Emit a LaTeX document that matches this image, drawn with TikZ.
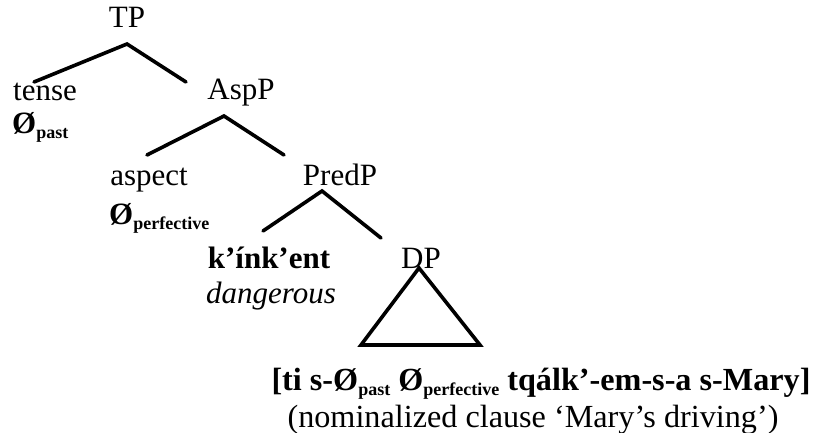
\documentclass[tikz,border=0pt]{standalone}
\usepackage{fontspec}
\setmainfont{Liberation Serif}
\begin{document}
\begin{tikzpicture}[x=1pt,y=-1pt,
  lbl/.style={inner sep=0pt,anchor=base,font=\fontsize{31}{36}\selectfont},
  biglbl/.style={lbl,font=\fontsize{32.2}{36}\selectfont},
  branch/.style={line width=3.6pt,line cap=round}]
\useasboundingbox (0,0) rectangle (827,433);
\newcommand{\subtxt}[1]{\raisebox{-5pt}{\fontsize{18}{18}\selectfont\bfseries #1}}
\node[lbl] (TP) at (127,28) {TP};
\node[lbl] (tense) at (45,101) {tense};
\node[lbl,anchor=base west] (past) at (12,134) {\bfseries Ø\subtxt{past}};
\node[lbl] (AspP) at (241,100) {AspP};
\node[lbl] (aspect) at (149,185) {aspect};
\node[lbl] (PredP) at (340,185) {PredP};
\node[lbl,anchor=base west] (perf) at (109,224) {\bfseries Ø\subtxt{perfective}};
\node[lbl] (kink) at (269,268) {\bfseries k’ínk’ent};
\node[lbl] (dang) at (271,303) {\itshape dangerous};
\node[lbl] (DP) at (421,268) {DP};
\node[biglbl] (clause) at (541,390) {\bfseries [ti s-Ø\subtxt{past} Ø\subtxt{perfective} tqálk’-em-s-a s-Mary]};
\node[biglbl] (gloss) at (533,427) {(nominalized clause ‘Mary’s driving’)};
\coordinate (tpA) at (127,44);
\coordinate (tpL) at (34,82);
\coordinate (tpR) at (186,82);
\coordinate (aspA) at (224,116);
\coordinate (aspL) at (147,155);
\coordinate (aspR) at (284,155);
\coordinate (prA) at (322,191);
\coordinate (prL) at (263,231);
\coordinate (prR) at (381,238);
\coordinate (dpA) at (419,268);
\coordinate (dpL) at (361,345);
\coordinate (dpR) at (480,345);
\draw[branch] (tpL) -- (tpA) -- (tpR);
\draw[branch] (aspL) -- (aspA) -- (aspR);
\draw[branch] (prL) -- (prA) -- (prR);
\draw[branch,line join=miter] (dpA) -- (dpL) -- (dpR) -- cycle;
\end{tikzpicture}
\end{document}
